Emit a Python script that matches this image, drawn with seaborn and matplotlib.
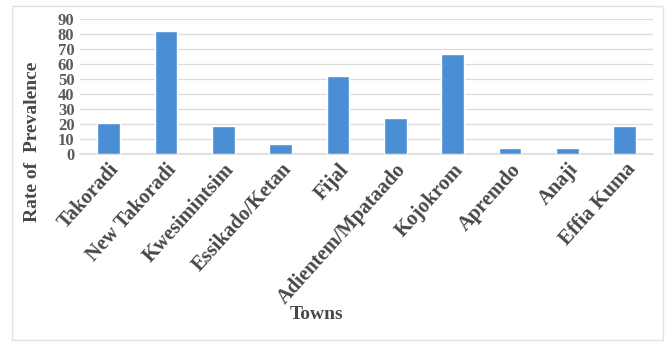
import matplotlib
matplotlib.use("Agg")
import matplotlib.pyplot as plt
import seaborn as sns
import pandas as pd
from matplotlib.patches import Rectangle

towns = ["Takoradi", "New Takoradi", "Kwesimintsim", "Essikado/Ketan", "Fijal",
         "Adientem/Mpataado", "Kojokrom", "Apremdo", "Anaji", "Effia Kuma"]
prevalence = [21, 82, 19, 7, 52, 24, 67, 4, 4, 19]
y_ticks = [0, 10, 20, 30, 40, 50, 60, 70, 80, 90]

df = pd.DataFrame({"Town": towns, "Prevalence": prevalence})

sns.set_theme(style="white")
plt.rcParams["font.family"] = ["Liberation Serif", "DejaVu Serif"]

fig = plt.figure(figsize=(6.69, 3.47), dpi=100)
ax = fig.add_axes([0.1196, 0.556, 0.857, 0.388])

sns.barplot(data=df, x="Town", y="Prevalence", color="#4a8fd6", width=0.4,
            saturation=1, ax=ax, zorder=3)

ax.set_ylim(0, 90)
ax.set_yticks(y_ticks)
ax.set_yticklabels([str(v) for v in y_ticks], fontsize=12, fontweight="bold",
                   color="#5a5a5a")
ax.yaxis.grid(True, color="#dcdcdc", linewidth=0.9, zorder=0)
ax.set_xlim(-0.5, len(towns) - 0.5)
for s in ["left", "right", "top"]:
    ax.spines[s].set_visible(False)
ax.spines["bottom"].set_color("#dcdcdc")
ax.tick_params(axis="y", length=0, pad=4)
ax.tick_params(axis="x", length=0, pad=4)
ax.set_xticks(range(len(towns)))
ax.set_xticklabels(towns, rotation=48, ha="right", rotation_mode="anchor",
                   fontsize=14.8, fontweight="bold", color="#484848")

ax.set_ylabel("Rate of  Prevalence", fontsize=14, fontweight="bold",
              color="#484848")
ax.yaxis.set_label_coords(-0.068, 0.09)
ax.set_xlabel("Towns", fontsize=14, fontweight="bold", color="#484848")
ax.xaxis.set_label_coords(0.413, -1.13)

# chart frame
fig.patches.append(Rectangle((12 / 669, 7 / 347), 651 / 669, 334 / 347,
                             transform=fig.transFigure, fill=False,
                             edgecolor="#e2e2e2", linewidth=1.0))

fig.savefig("out.png", dpi=100)
